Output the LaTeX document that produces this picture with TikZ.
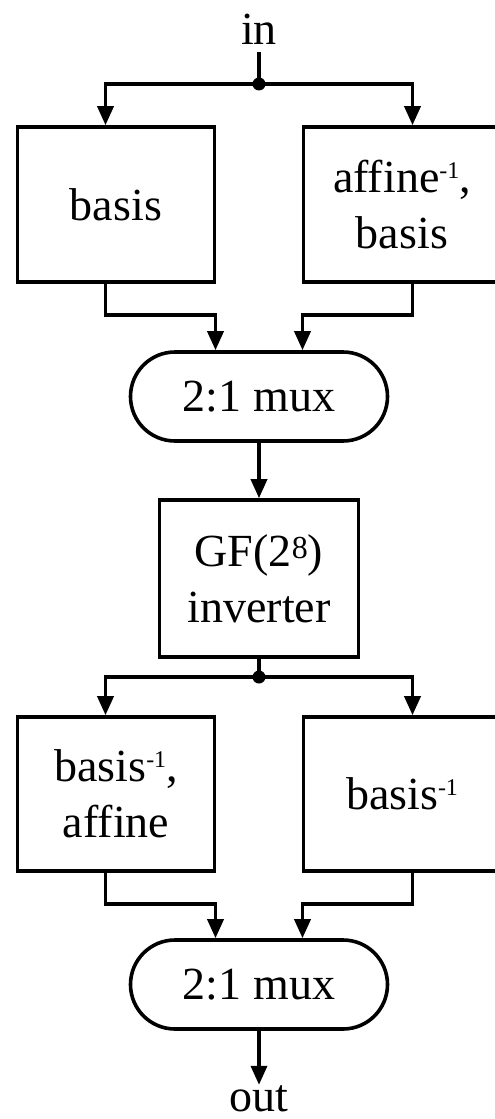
\documentclass[tikz,border=0pt]{standalone}
\usepackage{fontspec}
\setmainfont{Liberation Serif}
\usetikzlibrary{arrows.meta,positioning,calc,shapes.misc}
\newcommand\smallsup[1]{\raisebox{7pt}{\fontsize{12}{12}\selectfont #1}}

\begin{document}
\begin{tikzpicture}[node distance=20pt,
 font=\fontsize{23}{28}\selectfont,
 blk/.style={draw,line width=1.8pt,minimum width=98.5pt,minimum height=77.5pt,align=center,inner sep=2pt},
 mux/.style={draw,line width=1.8pt,rounded rectangle,minimum width=132.5pt,minimum height=44.5pt,inner sep=2pt},
 wire/.style={line width=1.8pt,-{Triangle[length=9.5pt,width=8pt]}},
 link/.style={line width=1.8pt},
 dot/.style={circle,fill,inner sep=0pt,minimum size=6.5pt}]
\coordinate (split1) at (0,0);
\useasboundingbox ($(split1)+(-129.5pt,42pt)$) rectangle ++(247pt,-559.5pt);

% forward stage: two basis changes into a mux
\node (in) [above=16pt of split1] {in};
\node[blk,below=20.6pt of split1,xshift=-71.5pt] (basis) {basis};
\node[blk,below=20.6pt of split1,xshift=71.5pt] (affbasis) {affine\smallsup{-1},\\basis};
\node[mux,below=133.1pt of split1] (mux1) {2:1 mux};
\draw[link] (in) -- (split1);
\draw[wire] (split1) -| ([xshift=-5.25pt]basis.north);
\draw[wire] (split1) -| ([xshift=5.25pt]affbasis.north);
\node[dot] (dot1) at (split1) {};
\draw[wire] ([xshift=-5.25pt]basis.south) -- ++(0,-15.5pt) -| ([xshift=-21.75pt]mux1.north);
\draw[wire] ([xshift=5.25pt]affbasis.south) -- ++(0,-15.5pt) -| ([xshift=21.75pt]mux1.north);

% shared inverter
\node[blk,minimum width=99.5pt,minimum height=78.5pt,below=27.7pt of mux1] (inv) {GF(2\raisebox{4pt}{\fontsize{16}{16}\selectfont 8})\\inverter};
\draw[wire] (mux1) -- (inv);

% backward stage
\coordinate[below=9.1pt of inv] (split2);
\node[blk,minimum height=77pt,below=19.1pt of split2,xshift=-71.5pt] (binvaff) {basis\smallsup{-1},\\affine};
\node[blk,minimum height=77pt,below=19.1pt of split2,xshift=71.5pt] (binv) {basis\smallsup{-1}};
\node[mux,below=130.6pt of split2] (mux2) {2:1 mux};
\node[inner ysep=0pt,below=27pt of mux2] (out) {out};
\draw[link] (inv) -- (split2);
\draw[wire] (split2) -| ([xshift=-5.25pt]binvaff.north);
\draw[wire] (split2) -| ([xshift=5.25pt]binv.north);
\node[dot] (dot2) at (split2) {};
\draw[wire] ([xshift=-5.25pt]binvaff.south) -- ++(0,-15.5pt) -| ([xshift=-21.75pt]mux2.north);
\draw[wire] ([xshift=5.25pt]binv.south) -- ++(0,-15.5pt) -| ([xshift=21.75pt]mux2.north);
\draw[wire] (mux2) -- (out);
\end{tikzpicture}
\end{document}
